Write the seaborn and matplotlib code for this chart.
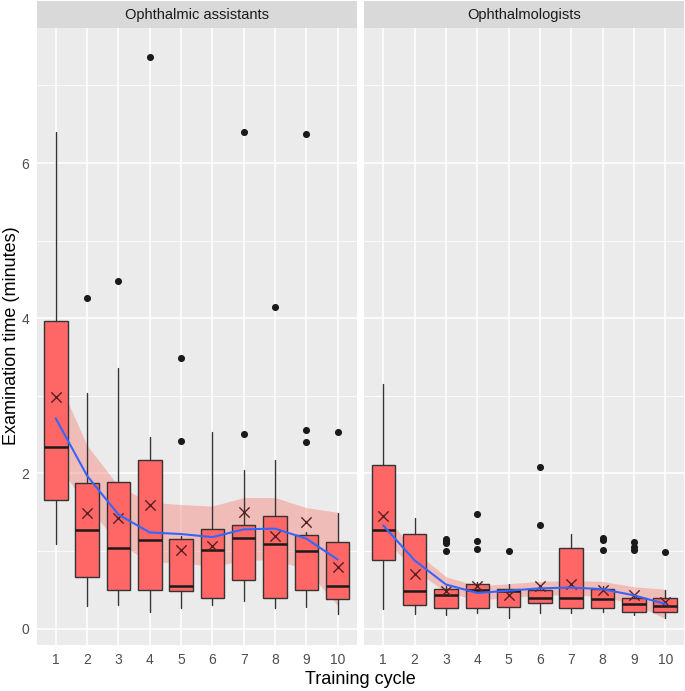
import numpy as np
import pandas as pd
import matplotlib
matplotlib.use("Agg")
import matplotlib.pyplot as plt
from matplotlib.patches import Rectangle
import seaborn as sns

# ---------------- data ----------------
groups = ["Ophthalmic assistants", "Ophthalmologists"]
cycles = [1, 2, 3, 4, 5, 6, 7, 8, 9, 10]

# Ophthalmic assistants box statistics
oa_whislo = [1.09, 0.29, 0.31, 0.22, 0.27, 0.31, 0.36, 0.27, 0.28, 0.19]
oa_q1     = [1.66, 0.67, 0.50, 0.50, 0.48, 0.39, 0.63, 0.40, 0.50, 0.38]
oa_med    = [2.34, 1.27, 1.04, 1.14, 0.55, 1.02, 1.17, 1.09, 1.00, 0.55]
oa_q3     = [3.97, 1.88, 1.89, 2.17, 1.16, 1.29, 1.34, 1.45, 1.21, 1.12]
oa_whishi = [6.40, 3.04, 3.36, 2.47, 1.20, 2.53, 2.05, 2.17, 1.25, 1.49]
oa_mean   = [2.99, 1.49, 1.42, 1.60, 1.01, 1.06, 1.50, 1.20, 1.38, 0.79]
oa_fliers = [[], [4.26], [4.48], [7.36], [3.49, 2.42], [], [2.51, 6.40],
             [4.14], [2.56, 2.41, 6.38], [2.54]]
oa_smooth    = [2.71, 1.97, 1.47, 1.24, 1.22, 1.18, 1.28, 1.29, 1.16, 0.89]
oa_smooth_lo = [2.15, 1.58, 1.10, 0.86, 0.85, 0.80, 0.88, 0.89, 0.76, 0.30]
oa_smooth_hi = [3.27, 2.36, 1.84, 1.63, 1.60, 1.58, 1.69, 1.69, 1.56, 1.50]

# Ophthalmologists box statistics
op_whislo = [0.25, 0.19, 0.18, 0.20, 0.14, 0.20, 0.20, 0.22, 0.18, 0.14]
op_q1     = [0.89, 0.30, 0.27, 0.27, 0.28, 0.33, 0.27, 0.27, 0.22, 0.22]
op_med    = [1.27, 0.49, 0.43, 0.50, 0.48, 0.40, 0.40, 0.38, 0.32, 0.29]
op_q3     = [2.11, 1.22, 0.51, 0.57, 0.51, 0.50, 1.04, 0.51, 0.39, 0.40]
op_whishi = [3.15, 1.43, 0.55, 0.60, 0.57, 0.56, 1.22, 0.55, 0.44, 0.50]
op_mean   = [1.45, 0.70, 0.48, 0.55, 0.43, 0.55, 0.57, 0.50, 0.43, 0.35]
op_fliers = [[], [], [1.16, 1.13, 1.10, 1.00], [1.48, 1.13, 1.03], [1.00],
             [2.08, 1.33], [], [1.17, 1.14, 1.01], [1.12, 1.05, 1.01], [0.99]]
op_smooth    = [1.33, 0.88, 0.57, 0.46, 0.49, 0.52, 0.53, 0.51, 0.43, 0.32]
op_smooth_lo = [1.17, 0.76, 0.47, 0.37, 0.40, 0.43, 0.44, 0.41, 0.32, 0.13]
op_smooth_hi = [1.49, 1.00, 0.67, 0.55, 0.58, 0.61, 0.62, 0.61, 0.54, 0.51]

# ---------------- tables ----------------
rows = []
for g, (wl, q1, md, q3, wh, mn, sm, lo, hi) in zip(groups, [
        (oa_whislo, oa_q1, oa_med, oa_q3, oa_whishi, oa_mean, oa_smooth, oa_smooth_lo, oa_smooth_hi),
        (op_whislo, op_q1, op_med, op_q3, op_whishi, op_mean, op_smooth, op_smooth_lo, op_smooth_hi)]):
    for i, c in enumerate(cycles):
        rows.append(dict(group=g, cycle=c, whislo=wl[i], q1=q1[i], med=md[i],
                         q3=q3[i], whishi=wh[i], mean=mn[i], smooth=sm[i],
                         lo=lo[i], hi=hi[i]))
stats = pd.DataFrame(rows)

frows = []
for g, fl in zip(groups, [oa_fliers, op_fliers]):
    for c, vals in zip(cycles, fl):
        for v in vals:
            frows.append(dict(group=g, cycle=c, value=v))
fliers = pd.DataFrame(frows)

# ---------------- style ----------------
sns.set_theme(style="darkgrid", rc={
    "axes.facecolor": "#EBEBEB",
    "grid.color": "white",
    "axes.edgecolor": "#EBEBEB",
    "xtick.color": "#333333",
    "ytick.color": "#333333",
})
plt.rcParams["font.family"] = ["Liberation Sans", "DejaVu Sans"]

g = sns.FacetGrid(stats, col="group", col_order=groups, sharey=True, sharex=True,
                  height=4, aspect=1, despine=False)
g.figure.set_size_inches(6.85, 6.91)
g.figure.subplots_adjust(left=37/685, right=684/685, bottom=1-645/691,
                         top=1-28/691, wspace=8/320)

BOX_FILL = "#FF6666"
EDGE = "#333333"

for ax, grp in zip(g.axes.flat, groups):
    d = stats[stats.group == grp]
    f = fliers[fliers.group == grp]
    # ribbon (behind boxes)
    ax.fill_between(d["cycle"], d["lo"], d["hi"], color="#F8766D", alpha=0.4,
                    linewidth=0, zorder=1)
    # boxes
    bstats = []
    for _, r in d.iterrows():
        bstats.append(dict(whislo=r.whislo, q1=r.q1, med=r.med, q3=r.q3,
                           whishi=r.whishi, fliers=[]))
    ax.bxp(bstats, positions=d["cycle"].tolist(), widths=0.75, patch_artist=True,
           showfliers=False, showcaps=False,
           boxprops=dict(facecolor=BOX_FILL, edgecolor=EDGE, linewidth=1.0),
           medianprops=dict(color="#1a1a1a", linewidth=1.8),
           whiskerprops=dict(color=EDGE, linewidth=1.0),
           zorder=2)
    # outliers
    sns.scatterplot(data=f, x="cycle", y="value", ax=ax, color="#1a1a1a",
                    s=26, linewidth=0, zorder=3, legend=False)
    # means
    sns.scatterplot(data=d, x="cycle", y="mean", ax=ax, marker="x",
                    color="#5a1f1f", s=55, linewidth=1.0, zorder=4, legend=False)
    # smooth line
    sns.lineplot(data=d, x="cycle", y="smooth", ax=ax, color="#3366FF",
                 linewidth=1.5, zorder=5, legend=False)

    ax.set_xlim(0.4, 10.6)
    ax.set_ylim(-0.21, 7.74)
    ax.set_xticks(cycles)
    ax.set_xticklabels([str(c) for c in cycles])
    ax.set_yticks([0, 2, 4, 6])
    ax.set_yticks([1, 3, 5, 7], minor=True)
    ax.grid(True, which="major", color="white", linewidth=1.1)
    ax.grid(True, which="minor", axis="y", color="white", linewidth=0.55)
    ax.set_axisbelow(True)
    ax.tick_params(axis="both", which="major", length=3.5, width=0.8,
                   color="#333333", labelsize=10, labelcolor="#4D4D4D", pad=2)
    ax.tick_params(axis="both", which="minor", length=0)
    for s in ax.spines.values():
        s.set_visible(False)
    ax.set_xlabel("")
    ax.set_ylabel("")
    ax.set_title("")
    # strip
    sh = 27 / 617
    ax.add_patch(Rectangle((0, 1), 1, sh, transform=ax.transAxes,
                           facecolor="#D9D9D9", edgecolor="none", clip_on=False))
    ax.text(0.5, 1 + sh / 2, grp, transform=ax.transAxes, ha="center",
            va="center", fontsize=10.5, color="#1A1A1A")

g.axes.flat[1].tick_params(axis="y", which="major", length=0, labelleft=False)

g.figure.text(12/685, 1 - 336/691, "Examination time (minutes)", rotation=90,
              ha="center", va="center", fontsize=13, color="black")
g.figure.text(360/685, 1 - 680/691, "Training cycle", ha="center",
              va="center", fontsize=13, color="black")

g.figure.savefig("out.png", dpi=100)
